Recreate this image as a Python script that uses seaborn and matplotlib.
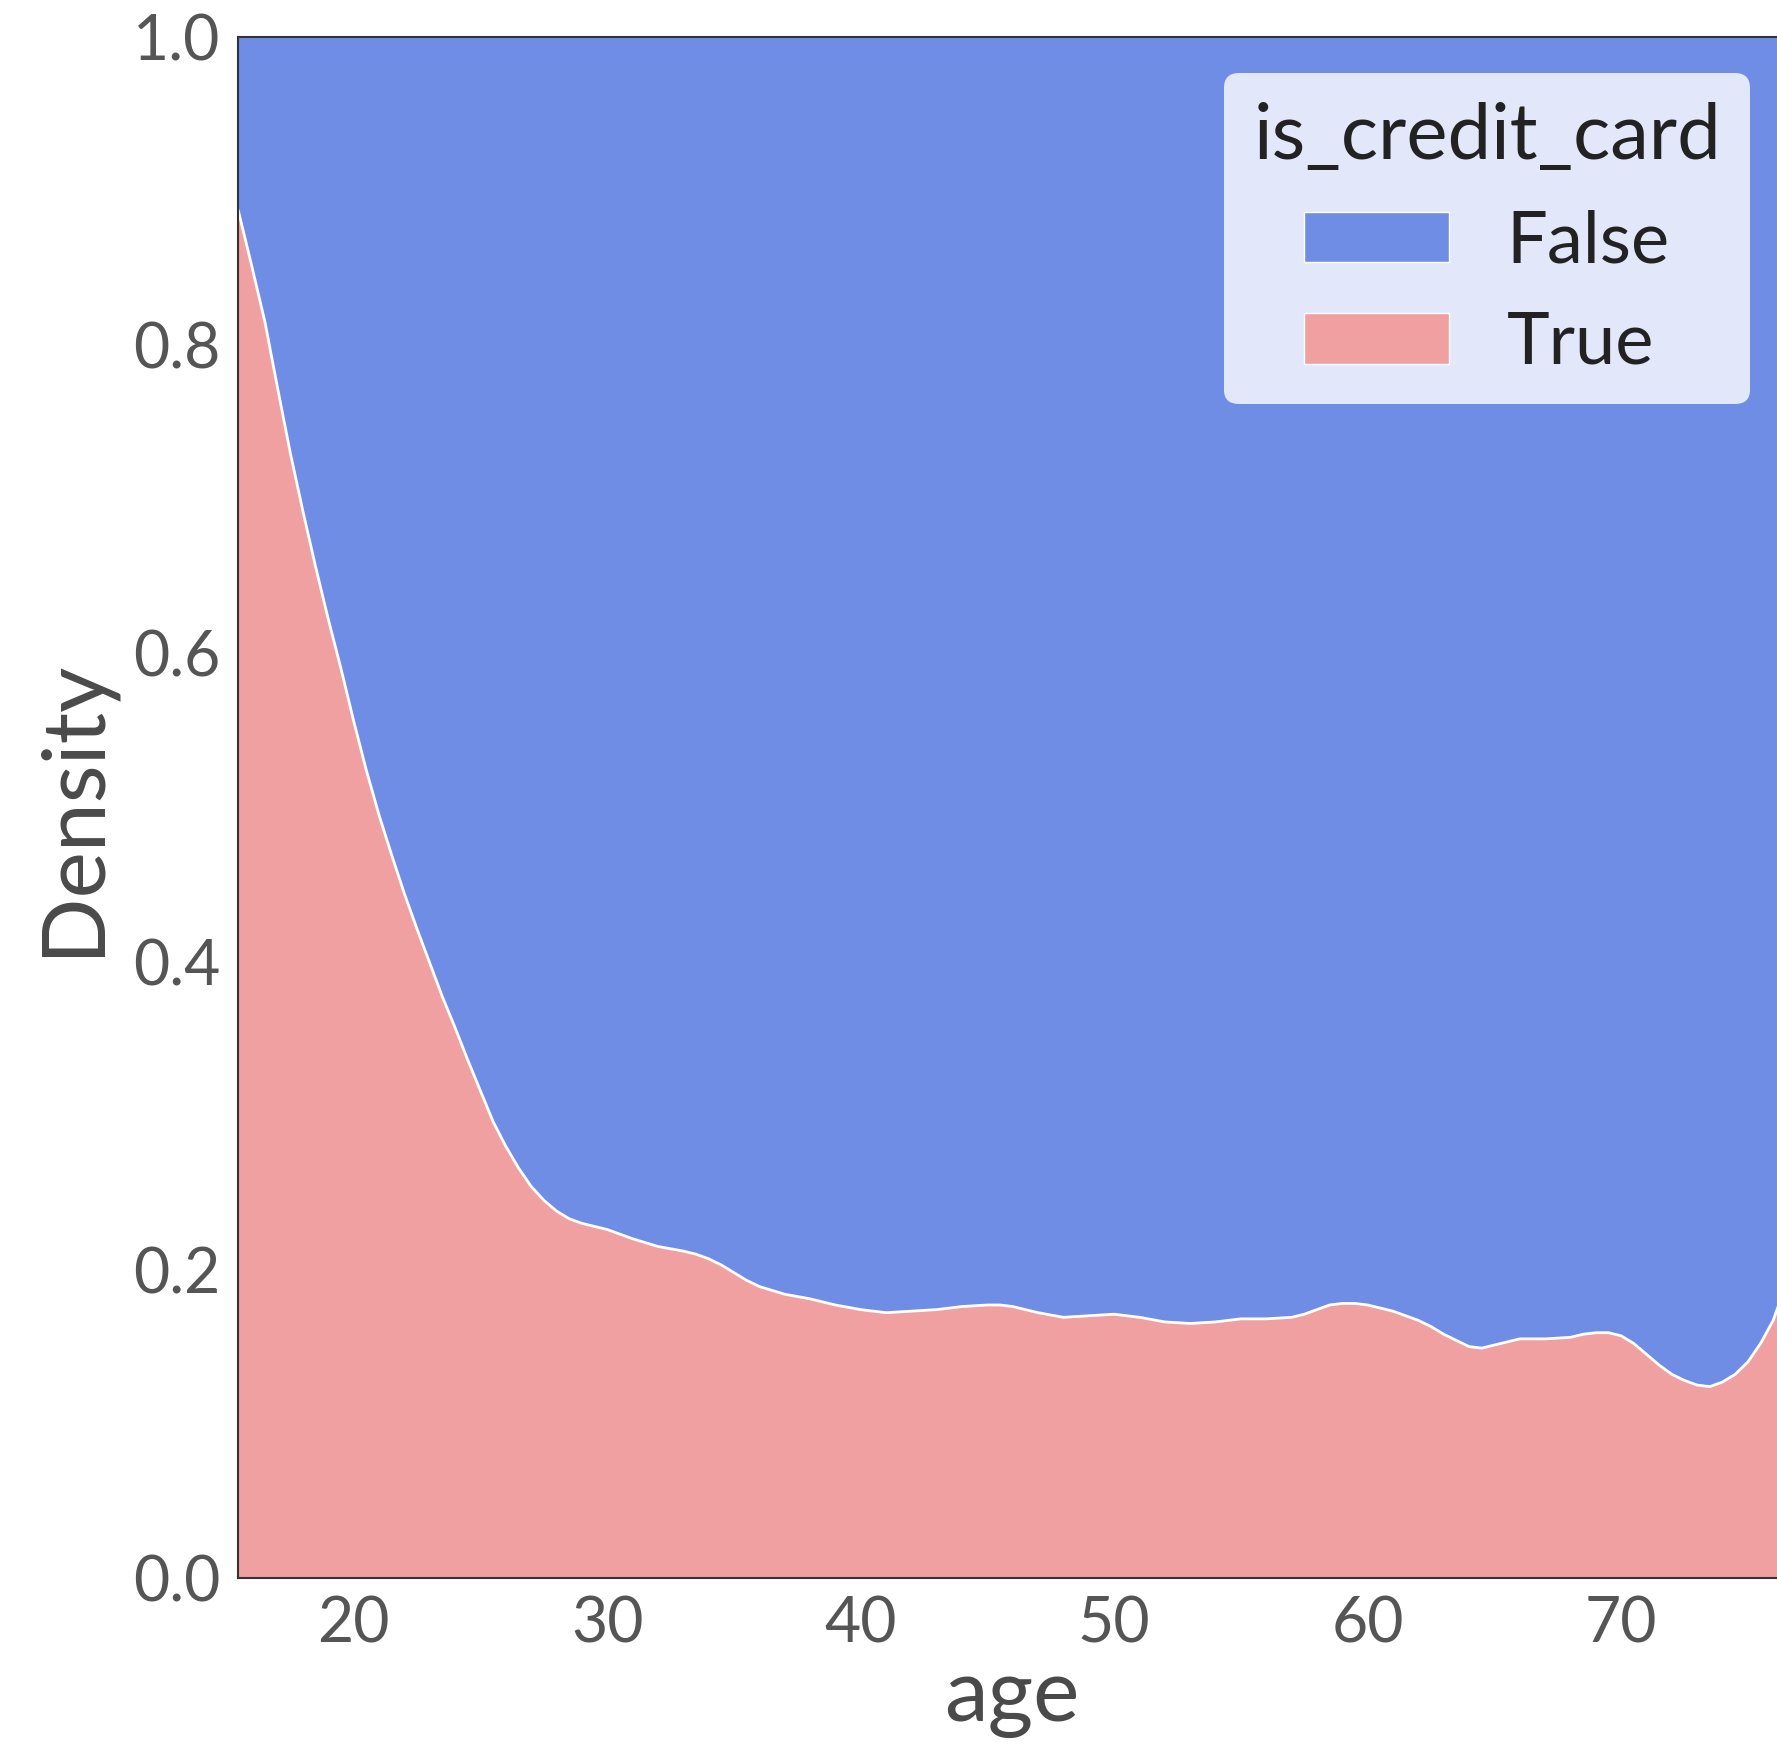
import numpy as np
import pandas as pd
import matplotlib.pyplot as plt
from matplotlib.patches import Patch
import seaborn as sns

# share of the True group (stacked "fill" density), by age
age = [15.44, 16.0, 16.5, 17.0, 17.5, 18.0, 18.5, 19.0, 19.5, 20.0, 20.5, 21.0,
       21.5, 22.0, 22.5, 23.0, 23.5, 24.0, 24.5, 25.0, 25.5, 26.0, 26.5, 27.0,
       27.5, 28.0, 28.5, 29.0, 30, 31, 32, 33, 33.5, 34, 34.5, 35, 35.5, 36,
       37, 38, 39, 40, 41, 42, 43, 44, 45, 45.5, 46, 47, 48, 49, 50, 51, 52,
       53, 54, 55, 56, 57, 57.5, 58, 58.5, 59, 59.5, 60, 60.5, 61, 61.5, 62,
       62.5, 63, 63.5, 64, 64.5, 65, 66, 67, 68, 68.5, 69, 69.5, 70, 70.5, 71,
       71.5, 72, 72.5, 73, 73.5, 74, 74.5, 75, 75.5, 76, 76.6]
share_true = [0.888, 0.850, 0.815, 0.772, 0.730, 0.692, 0.656, 0.622, 0.590,
              0.556, 0.524, 0.495, 0.469, 0.444, 0.421, 0.399, 0.377, 0.357,
              0.336, 0.316, 0.296, 0.280, 0.266, 0.254, 0.245, 0.238, 0.233,
              0.230, 0.226, 0.220, 0.215, 0.212, 0.210, 0.207, 0.203, 0.198,
              0.193, 0.189, 0.184, 0.181, 0.177, 0.174, 0.172, 0.173, 0.174,
              0.176, 0.177, 0.177, 0.176, 0.172, 0.169, 0.170, 0.171, 0.169,
              0.166, 0.165, 0.166, 0.168, 0.168, 0.169, 0.171, 0.174, 0.177,
              0.178, 0.178, 0.177, 0.175, 0.173, 0.170, 0.167, 0.163, 0.158,
              0.154, 0.150, 0.149, 0.151, 0.155, 0.155, 0.156, 0.158, 0.159,
              0.159, 0.157, 0.152, 0.145, 0.138, 0.132, 0.128, 0.125, 0.124,
              0.127, 0.132, 0.140, 0.152, 0.167, 0.195]

hue_levels = ['False', 'True']
hue_colors = ['#708de6', '#f0a0a0']

df = pd.DataFrame({'age': age, 'share_true': share_true})

sns.set_theme(style='white')
plt.rcParams['font.family'] = ['Lato', 'DejaVu Sans']

fig = plt.figure(figsize=(17.77, 17.44), dpi=100)
ax = fig.add_axes([0.134, 0.0954, 0.871, 0.8832])

# stacked fill: True at the bottom, False on top up to 1
ax.fill_between(df['age'], 0, df['share_true'], color=hue_colors[1], lw=0)
ax.fill_between(df['age'], df['share_true'], 1, color=hue_colors[0], lw=0)
sns.lineplot(data=df, x='age', y='share_true', color='white', lw=2, ax=ax)

ax.set_xlim(15.44, 76.5)
ax.set_ylim(0, 1)
ax.set_xticks([20, 30, 40, 50, 60, 70])
ax.set_yticks([0, 0.2, 0.4, 0.6, 0.8, 1.0])
ax.set_yticklabels(['0.0', '0.2', '0.4', '0.6', '0.8', '1.0'])
ax.tick_params(labelsize=45, colors='#555555', length=0, pad=13)
ax.set_xlabel('age', fontsize=63, color='#4a4a4a', labelpad=4)
ax.set_ylabel('Density', fontsize=63, color='#4a4a4a', labelpad=14)

for s in ax.spines.values():
    s.set_color('#333333')
    s.set_linewidth(1.5)

handles = [Patch(facecolor=c, edgecolor='white', label=l)
           for c, l in zip(hue_colors, hue_levels)]
leg = ax.legend(handles=handles, title='is_credit_card', loc='upper right',
                fontsize=52, title_fontsize=56, frameon=True, framealpha=0.8,
                edgecolor='none')
for t in leg.get_texts():
    t.set_color('#222222')
leg.get_title().set_color('#222222')

fig.savefig('out.png', dpi=100)
